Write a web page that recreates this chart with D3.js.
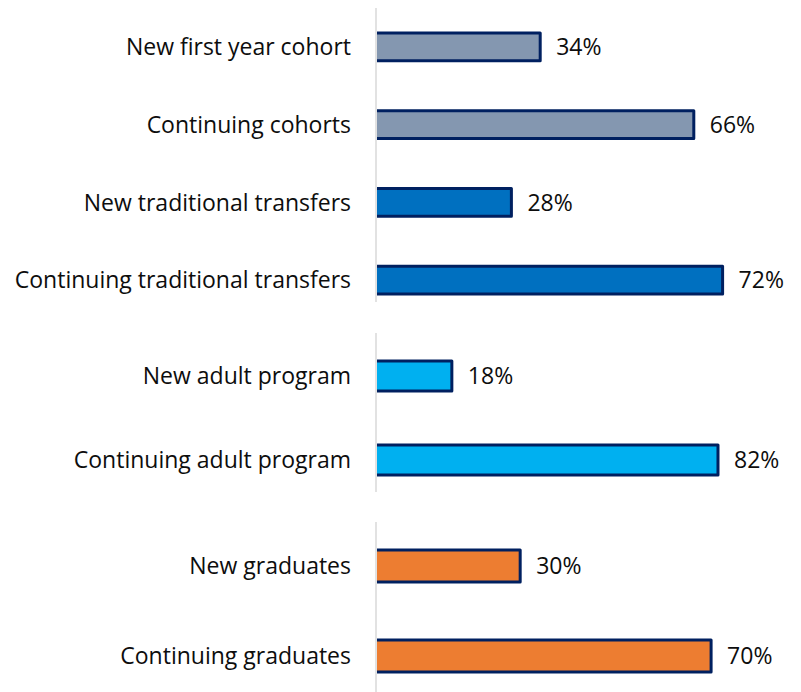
<!DOCTYPE html>
<html>
<head>
<meta charset="utf-8">
<script src="https://cdn.jsdelivr.net/npm/d3@7"></script>
<style>
  html, body { margin: 0; padding: 0; background: #fff; }
  svg { display: block; }
  text { font-family: "Open Sans", "Noto Sans", sans-serif; fill: #0d0d0d; }
</style>
</head>
<body>
<svg id="chart" width="801" height="692"></svg>
<script>
// Share of each student group, split into three panels
const cohortCategories = ["New first year cohort", "Continuing cohorts", "New traditional transfers", "Continuing traditional transfers"];
const cohortValues = [34, 66, 28, 72];
const cohortColors = ["#8497B0", "#8497B0", "#0070C0", "#0070C0"];

const adultCategories = ["New adult program", "Continuing adult program"];
const adultValues = [18, 82];
const adultColors = ["#00B0F0", "#00B0F0"];

const graduateCategories = ["New graduates", "Continuing graduates"];
const graduateValues = [30, 70];
const graduateColors = ["#ED7D31", "#ED7D31"];

// Each panel was scaled on its own value axis
const panelAxisMax = [87.5, 101, 88];

const panels = [
  { cats: cohortCategories, vals: cohortValues, colors: cohortColors, axisMax: panelAxisMax[0],
    band: [8, 319], axisLine: [8, 302] },
  { cats: adultCategories, vals: adultValues, colors: adultColors, axisMax: panelAxisMax[1],
    band: [334, 502], axisLine: [333, 492] },
  { cats: graduateCategories, vals: graduateValues, colors: graduateColors, axisMax: panelAxisMax[2],
    band: [521, 701], axisLine: [522, 692] }
];

const svg = d3.select("#chart");
const x0 = 377;
const plotWidth = 420;
const fontSize = 23;
const borderColor = "#002060";
const strokeW = 3;

panels.forEach(p => {
  const x = d3.scaleLinear().domain([0, p.axisMax]).range([x0, x0 + plotWidth]);
  const y = d3.scaleBand().domain(p.cats).range(p.band).paddingInner(0.645).paddingOuter(0.3225);

  const g = svg.append("g");

  // vertical category axis line
  g.append("line")
    .attr("x1", x0 - 1).attr("x2", x0 - 1)
    .attr("y1", p.axisLine[0]).attr("y2", p.axisLine[1])
    .attr("stroke", "#d9d9d9").attr("stroke-width", 1.5);

  const rows = g.selectAll("g.row").data(p.cats.map((c, i) => ({ c, v: p.vals[i], col: p.colors[i] })))
    .join("g").attr("class", "row");

  // bar fill
  rows.append("rect")
    .attr("x", x0)
    .attr("y", d => y(d.c))
    .attr("width", d => x(d.v) - x0)
    .attr("height", y.bandwidth())
    .attr("fill", d => d.col);

  // border on top, right and bottom sides only
  rows.append("path")
    .attr("d", d => {
      const top = y(d.c), bot = y(d.c) + y.bandwidth(), right = x(d.v);
      return `M${x0},${top}H${right}V${bot}H${x0}`;
    })
    .attr("fill", "none")
    .attr("stroke", borderColor)
    .attr("stroke-width", strokeW)
    .attr("stroke-linejoin", "round");

  // category labels
  rows.append("text")
    .attr("x", 351)
    .attr("y", d => y(d.c) + y.bandwidth() / 2)
    .attr("dy", "0.36em")
    .attr("text-anchor", "end")
    .attr("font-size", fontSize)
    .text(d => d.c);

  // value labels
  rows.append("text")
    .attr("x", d => x(d.v) + 16)
    .attr("y", d => y(d.c) + y.bandwidth() / 2)
    .attr("dy", "0.36em")
    .attr("font-size", fontSize)
    .text(d => d.v + "%");
});
</script>
</body>
</html>
